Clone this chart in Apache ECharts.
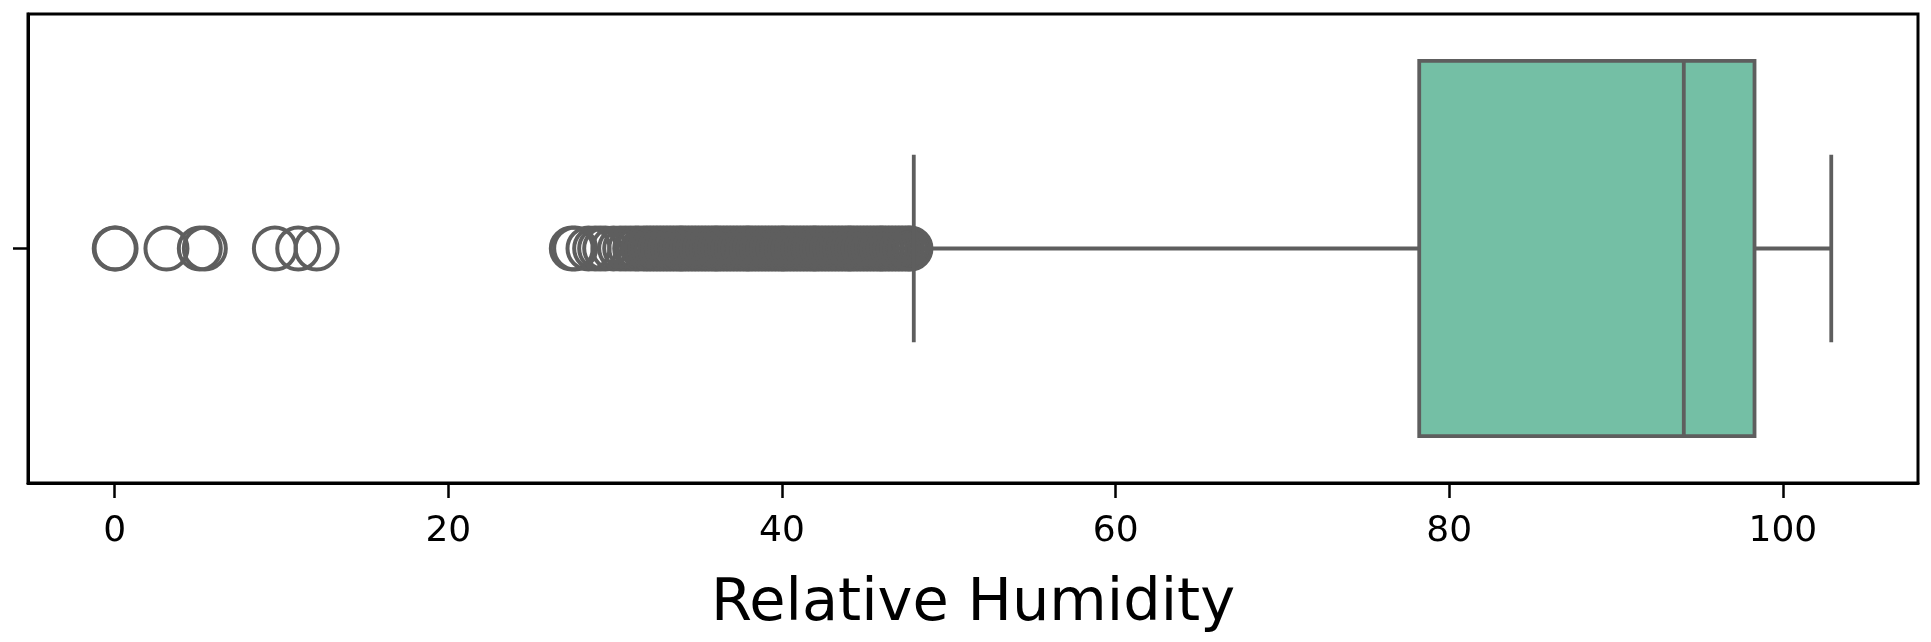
<!DOCTYPE html>
<html>
<head>
<meta charset="utf-8">
<script src="https://cdn.jsdelivr.net/npm/echarts@6/dist/echarts.min.js"></script>
<style>
  html, body { margin: 0; padding: 0; background: #fff; }
  #main { width: 1931px; height: 642px; }
</style>
</head>
<body>
<div id="main"></div>
<script>
// box summary: whisker low, Q1, median, Q3, whisker high
const categories = [''];
const boxStats = [47.9, 78.2, 94.06, 98.3, 102.9];
// outliers (dense run 27-48 is overplotted)
const outliers = [
  0.0, 0.05, 3.1, 5.1, 5.4, 9.6, 11.0, 12.1,
  27.4, 27.6, 28.4, 28.8, 29.1, 29.4, 29.9, 30.3, 30.6, 30.9,
  31.2, 31.4, 31.7, 31.9, 32.1, 32.3, 32.5, 32.7, 32.9, 33.1, 33.3,
  33.5, 33.7, 33.9, 34.0, 34.2, 34.4, 34.6, 34.8, 35.0, 35.2, 35.4,
  35.6, 35.8, 36.0, 36.1, 36.3, 36.5, 36.7, 36.9, 37.1, 37.3, 37.5,
  37.7, 37.9, 38.0, 38.2, 38.4, 38.6, 38.8, 39.0, 39.2, 39.4, 39.6,
  39.8, 40.0, 40.1, 40.3, 40.5, 40.7, 40.9, 41.1, 41.3, 41.5, 41.7,
  41.9, 42.0, 42.2, 42.4, 42.6, 42.8, 43.0, 43.2, 43.4, 43.6, 43.8,
  44.0, 44.1, 44.3, 44.5, 44.7, 44.9, 45.1, 45.3, 45.5, 45.7, 45.9,
  46.0, 46.2, 46.4, 46.6, 46.8, 47.0, 47.2, 47.4, 47.6, 47.7
];
const xTicks = [0, 20, 40, 60, 80, 100];

const lineColor = '#5e5e5e';
const boxColor = '#74bfa5';
const font = 'DejaVu Sans';

const chart = echarts.init(document.getElementById('main'));

const option = {
  animation: false,
  grid: {
    left: 28, right: 13, top: 14, bottom: 159,
    show: true, borderColor: '#000', borderWidth: 3, backgroundColor: 'transparent'
  },
  xAxis: {
    type: 'value',
    min: -5.2,
    max: 108.1,
    name: 'Relative Humidity',
    nameLocation: 'middle',
    nameGap: 92,
    nameTextStyle: { fontFamily: font, fontSize: 59, color: '#000' },
    splitLine: { show: false },
    axisLine: { show: true, onZero: false, lineStyle: { color: '#000', width: 3 } },
    axisTick: {
      show: true, length: 15, customValues: xTicks,
      lineStyle: { color: '#000', width: 2.5 }
    },
    axisLabel: {
      customValues: xTicks, margin: 31,
      fontFamily: font, fontSize: 36, color: '#000'
    }
  },
  yAxis: {
    type: 'category',
    data: categories,
    axisLine: { show: true, onZero: false, lineStyle: { color: '#000', width: 3 } },
    axisTick: { show: true, alignWithLabel: true, length: 15, lineStyle: { color: '#000', width: 2.5 } },
    axisLabel: { show: false },
    splitLine: { show: false }
  },
  series: [
    {
      type: 'scatter',
      data: outliers.map(v => [v, 0]),
      symbol: 'circle',
      symbolSize: 42,
      itemStyle: { color: 'transparent', borderColor: lineColor, borderWidth: 4, opacity: 1 },
      emphasis: { disabled: true },
      z: 2
    },
    {
      type: 'custom',
      data: [[0].concat(boxStats)],
      encode: { x: [1, 2, 3, 4, 5], y: 0 },
      z: 3,
      renderItem: function (params, api) {
        const cat = api.value(0);
        const band = api.size([0, 1])[1];
        const yc = api.coord([0, cat])[1];
        const px = i => api.coord([api.value(i), cat])[0];
        const lo = px(1), q1 = px(2), med = px(3), q3 = px(4), hi = px(5);
        const half = band * 0.4, cap = band * 0.2;
        const ls = { stroke: lineColor, lineWidth: 3.8, fill: null };
        return {
          type: 'group',
          children: [
            { type: 'line', shape: { x1: lo, y1: yc, x2: q1, y2: yc }, style: ls },
            { type: 'line', shape: { x1: q3, y1: yc, x2: hi, y2: yc }, style: ls },
            { type: 'line', shape: { x1: lo, y1: yc - cap, x2: lo, y2: yc + cap }, style: ls },
            { type: 'line', shape: { x1: hi, y1: yc - cap, x2: hi, y2: yc + cap }, style: ls },
            { type: 'rect', shape: { x: q1, y: yc - half, width: q3 - q1, height: 2 * half },
              style: { fill: boxColor, stroke: lineColor, lineWidth: 3.8 } },
            { type: 'line', shape: { x1: med, y1: yc - half, x2: med, y2: yc + half }, style: ls }
          ]
        };
      }
    }
  ]
};

chart.setOption(option);
</script>
</body>
</html>
